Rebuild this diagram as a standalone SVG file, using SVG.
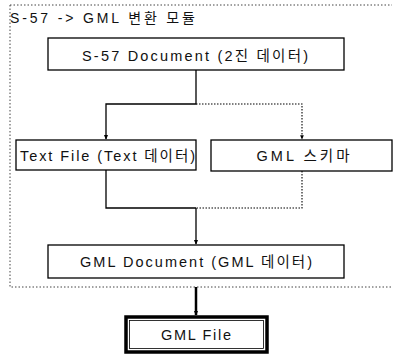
<svg xmlns="http://www.w3.org/2000/svg" width="393" height="357" viewBox="0 0 393 357">
<style>
.box{fill:#fff;stroke:#000;stroke-width:1.3}
.t{font-family:"Liberation Sans","Noto Sans CJK KR",sans-serif;font-size:14.5px;fill:#111}
.c{text-anchor:middle}
.solid{fill:none;stroke:#000;stroke-width:1.3}
.dot{fill:none;stroke:#000;stroke-width:1.1;stroke-dasharray:1.5 1.5}
</style>
<defs>
<marker id="ah" viewBox="0 0 6 6" refX="5" refY="3" markerWidth="4" markerHeight="4" orient="auto">
<path d="M0,0.5 L6,3 L0,5.5 Z" fill="#000"/>
</marker>
<marker id="ahs" viewBox="0 0 6 6" refX="5" refY="3" markerWidth="2" markerHeight="2" orient="auto">
<path d="M0,0.5 L6,3 L0,5.5 Z" fill="#000"/>
</marker>
</defs>
<rect x="0" y="0" width="393" height="357" fill="#fff"/>
<g id="module">
<path d="M10,5 H392 M10,5 V287 H392" fill="none" stroke="#444" stroke-width="1" stroke-dasharray="1.5 2"/>
<text class="t" x="10" y="23" style="font-size:14px" textLength="185" lengthAdjust="spacing">S-57 -&gt; GML 변환 모듈</text>
</g>
<g id="connectors">
<path class="solid" d="M196,70 V104 H106 V139" marker-end="url(#ah)"/>
<path class="dot" d="M196,104 H302 V139" marker-end="url(#ah)"/>
<path class="solid" d="M106,170 V208 H196"/>
<path class="dot" d="M302,171 V208 H196"/>
<path class="solid" d="M196,208 V244" marker-end="url(#ah)"/>
<path fill="none" stroke="#000" stroke-width="2.5" d="M196,287 V315" marker-end="url(#ahs)"/>
</g>
<g id="s57doc">
<rect class="box" x="48" y="38" width="296" height="32"/>
<text class="t c" x="195" y="61" textLength="226" lengthAdjust="spacing">S-57 Document (2진 데이터)</text>
</g>
<g id="textfile">
<rect class="box" x="16" y="140" width="180" height="30"/>
<text class="t c" x="107.5" y="161" textLength="175" lengthAdjust="spacing">Text File (Text 데이터)</text>
</g>
<g id="gmlschema">
<rect class="box" x="211" y="140" width="181" height="31"/>
<text class="t c" x="303" y="161" textLength="93" lengthAdjust="spacing">GML 스키마</text>
</g>
<g id="gmldoc">
<rect class="box" x="48" y="245" width="296" height="33"/>
<text class="t c" x="196" y="267" textLength="232" lengthAdjust="spacing">GML Document (GML 데이터)</text>
</g>
<g id="gmlfile">
<rect x="126" y="317" width="141" height="35" fill="#fff" stroke="#000" stroke-width="3.5"/>
<rect x="129.5" y="320.5" width="134" height="28" fill="none" stroke="#000" stroke-width="0.8"/>
<text class="t c" x="196" y="340" textLength="70" lengthAdjust="spacing">GML File</text>
</g>
</svg>
